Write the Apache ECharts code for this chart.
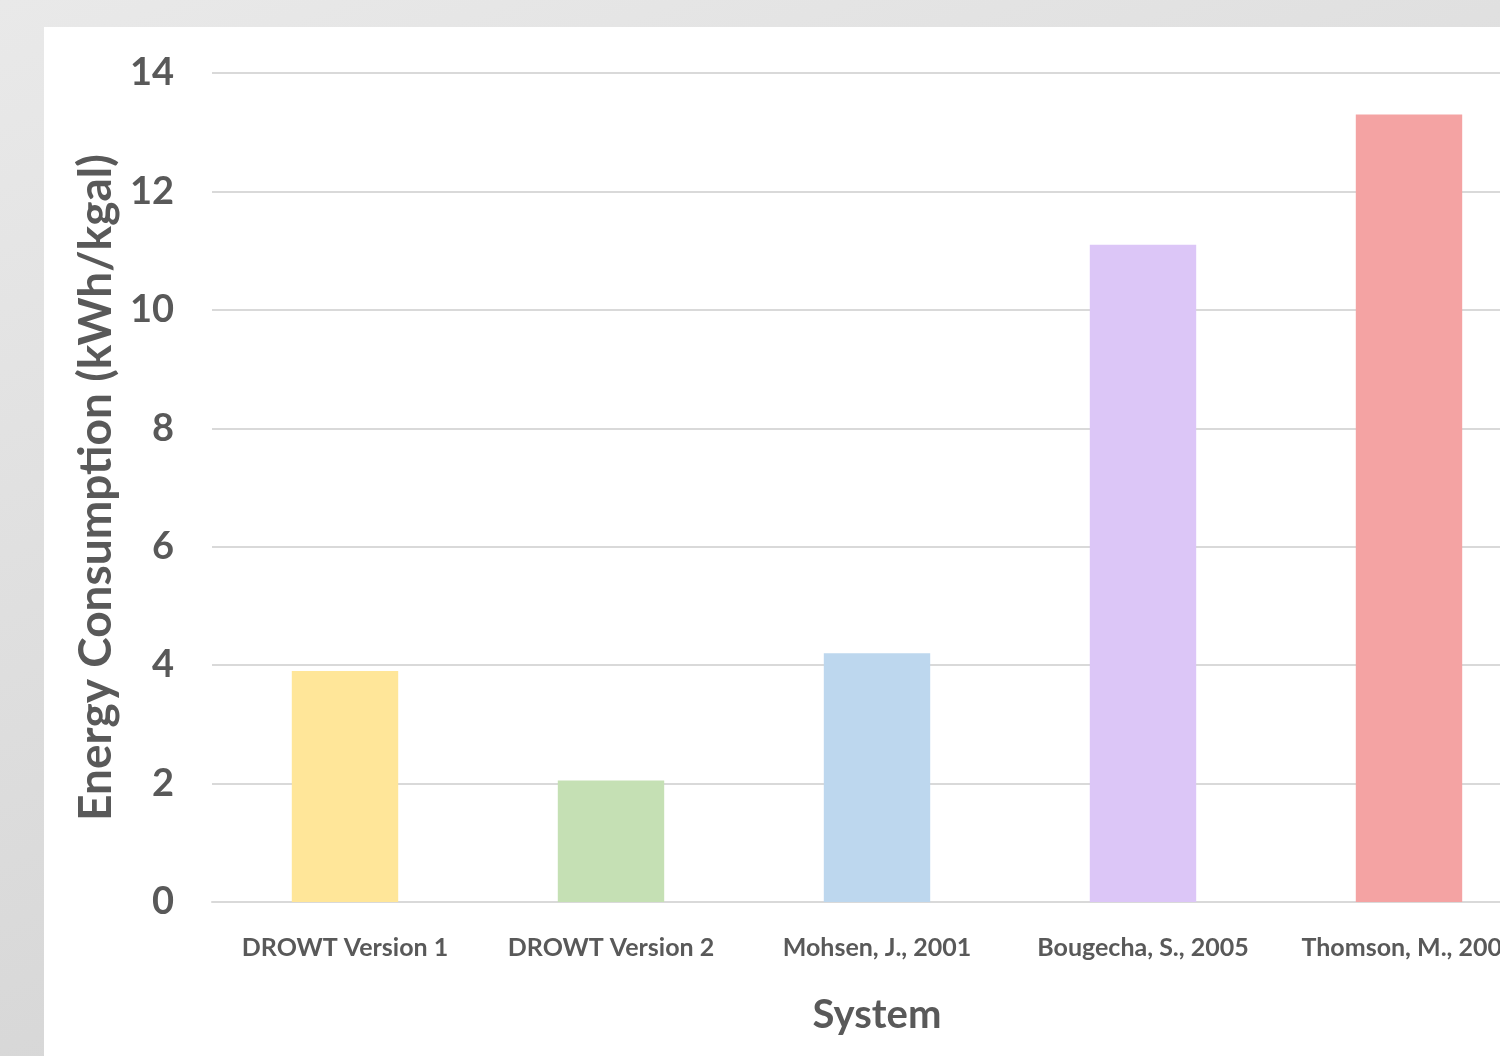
<!DOCTYPE html>
<html>
<head>
<meta charset="utf-8">
<script src="https://cdn.jsdelivr.net/npm/echarts@6/dist/echarts.min.js"></script>
<style>
  html, body {
    margin: 0;
    padding: 0;
    width: 1500px;
    height: 1056px;
    overflow: hidden;
    background: linear-gradient(160deg, #e9e9e9 0%, #dcdcdc 50%, #cfcfcf 100%);
  }
  #chart {
    position: absolute;
    left: 44px;
    top: 27px;
    width: 1560px;
    height: 1029px;
    background: #ffffff;
  }
</style>
</head>
<body>
<div id="chart"></div>
<script>
// 数据
var systems = ['DROWT Version 1', 'DROWT Version 2', 'Mohsen, J., 2001', 'Bougecha, S., 2005', 'Thomson, M., 2003'];
var energy = [3.9, 2.05, 4.2, 11.1, 13.3];
var barColors = ['#FFE699', '#C5E0B4', '#BDD7EE', '#DCC6F7', '#F4A3A3'];
var yTicks = [0, 2, 4, 6, 8, 10, 12, 14];

var textColor = '#595959';
var fontName = 'Lato, "Open Sans", sans-serif';

var chart = echarts.init(document.getElementById('chart'));

var option = {
  animation: false,
  grid: {
    left: 168,
    top: 46,
    right: 62,
    bottom: 154,
    containLabel: false
  },
  xAxis: {
    type: 'category',
    data: systems,
    name: 'System',
    nameLocation: 'middle',
    nameGap: 93,
    nameTextStyle: {
      color: textColor,
      fontFamily: fontName,
      fontSize: 40,
      fontWeight: 'bold'
    },
    axisLine: {
      show: true,
      lineStyle: { color: '#d9d9d9', width: 2 }
    },
    axisTick: { show: false },
    axisLabel: {
      color: textColor,
      fontFamily: fontName,
      fontSize: 25,
      fontWeight: 'bold',
      margin: 33,
      interval: 0
    }
  },
  yAxis: {
    type: 'value',
    min: yTicks[0],
    max: yTicks[yTicks.length - 1],
    interval: 2,
    name: 'Energy Consumption (kWh/kgal)',
    nameLocation: 'middle',
    nameGap: 92,
    nameTextStyle: {
      color: textColor,
      fontFamily: fontName,
      fontSize: 46,
      fontWeight: 'bold'
    },
    axisLine: { show: false },
    axisTick: { show: false },
    axisLabel: {
      color: textColor,
      fontFamily: fontName,
      fontSize: 38,
      fontWeight: 'bold',
      margin: 38
    },
    splitLine: {
      lineStyle: { color: '#d9d9d9', width: 2 }
    }
  },
  series: [{
    type: 'bar',
    data: energy.map(function (v, i) {
      return { value: v, itemStyle: { color: barColors[i] } };
    }),
    barWidth: '40%'
  }]
};

chart.setOption(option);
</script>
</body>
</html>
